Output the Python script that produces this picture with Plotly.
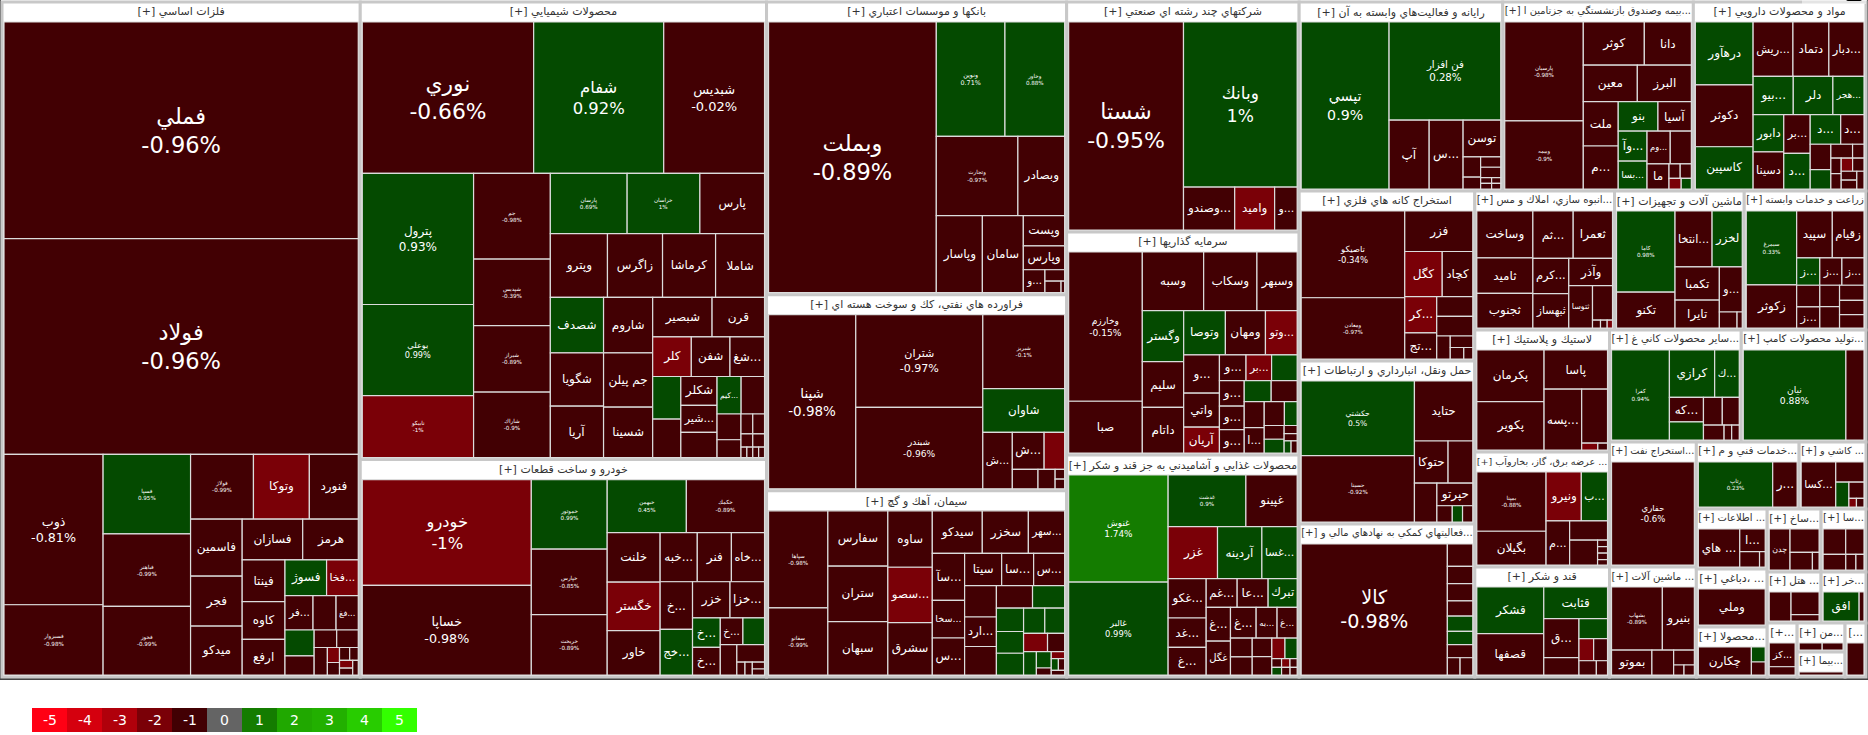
import math
import plotly.graph_objects as go

# ---------------- data ----------------
# sector headers (as displayed) and sector sizes (relative market value)
SECTOR_HEADERS = [
    "[+] فلزات اساسي",
    "[+] محصولات شيميايي",
    "[+] خودرو و ساخت قطعات",
    "[+] بانكها و موسسات اعتباري",
    "[+] فراورده هاي نفتي، كك و سوخت هسته اي",
    "[+] سيمان، آهك و گچ",
    "[+] شركتهاي چند رشته اي صنعتي",
    "[+] سرمايه گذاريها",
    "[+] محصولات غذايي و آشاميدني به جز قند و شكر",
    "[+] رايانه و فعاليت\u200cهاي وابسته به آن",
    "[+] بيمه وصندوق بازنشستگي به جزتامين ا...",
    "[+] مواد و محصولات دارويي",
    "[+] استخراج كانه هاي فلزي",
    "[+] حمل ونقل، انبارداري و ارتباطات",
    "[+] فعاليتهاي كمكي به نهادهاي مالي و...",
    "[+] انبوه سازي، املاك و مس...",
    "[+] ماشين آلات و تجهيزات",
    "[+] زراعت و خدمات وابسته",
    "[+] لاستيك و پلاستيك",
    "[+] عرضه برق، گاز، بخاروآب ...",
    "[+] قند و شكر",
    "[+] ساير محصولات كاني غ...",
    "[+] توليد محصولات كامپ...",
    "[+] استخراج نفت...",
    "[+] ماشين آلات ...",
    "[+] خدمات فني و م...",
    "[+] كاشي و ...",
    "[+] اطلاعات ...",
    "[+] دباغي، ...",
    "[+] محصولا...",
    "[+] ساخ...",
    "[+] سا...",
    "[+] هتل ...",
    "[+] خر...",
    "[+...",
    "[+] من...",
    "[+] بيما...",
    "[...",
]
SECTOR_SIZE = [242325, 186300, 88500, 88000, 58996, 55986, 53590, 51959, 51726,
               38556, 36099, 32697, 29920, 28688, 26928, 19460, 18070, 16958,
               16470, 15525, 14850, 14784, 14000, 10875, 9570, 6901, 4489, 4260,
               4118, 3550, 3402, 2835, 2754, 2295, 1620, 1392, 1200, 1134]

# stocks per sector: (symbol, relative size, % change)   "" = unlabeled tile
FELEZAT = [("فملي", 75970, -0.96), ("فولاد", 75615, -0.96), ("ذوب", 14744, -0.81),
           ("فسبزوار", 6887, -0.98), ("فسپا", 6880, 0.95), ("فباهنر", 6278, -0.99),
           ("فخوز", 5934, -0.99), ("فولاژ", 4032, -0.99), ("وتوكا", 3584, -1.35),
           ("فنورد", 3136, -0.92), ("فاسمين", 2907, -0.95), ("فجر", 2550, -0.9),
           ("ميدكو", 2499, -0.93), ("فسازان", 2440, -0.9), ("هرمز", 2240, -0.95),
           ("فينتا", 1764, -0.9), ("كاوه", 1596, -0.9), ("ارفع", 1512, -0.85),
           ("فسوژ", 1470, 0.62), ("فخا...", 1120, -1.5), ("فر...", 952, -0.9),
           ("", 782, -0.8), ("فغ...", 754, -0.9), ("", 748, 0.5), ("", 551, -0.8),
           ("", 391, -0.7), ("", 374, -0.9), ("", 360, -0.8), ("", 180, -1.4),
           ("", 150, -0.5), ("", 130, -0.6), ("", 110, -0.3), ("", 100, -1.2),
           ("", 90, -0.4), ("", 80, -0.5)]
SHIMI = [("نوري", 25160, -0.66), ("شفام", 19092, 0.92), ("شبديس", 14800, -0.02),
         ("پترول", 14148, 0.93), ("بوعلي", 9828, 0.99), ("نابيكو", 6696, -1.004),
         ("جم", 6375, -0.98), ("شپديس", 4950, -0.39), ("شيراز", 4950, -0.89),
         ("شاراك", 4875, -0.9), ("پارسان", 4484, 0.69), ("خراسان", 4248, 0.996),
         ("پارس", 3776, -0.9), ("وپترو", 3528, -0.9), ("زاگرس", 3402, -0.85),
         ("كرماشا", 3276, -0.9), ("شاملا", 3024, -0.9), ("شصدف", 2860, 0.7),
         ("شگويا", 2756, -0.9), ("آريا", 2652, -0.85), ("شاروم", 2640, -0.9),
         ("جم پيلن", 2592, -0.9), ("شسينا", 2400, -0.9), ("شبصير", 2280, -0.9),
         ("قرن", 2014, -0.9), ("كلر", 1482, -1.5), ("شفن", 1482, -0.9),
         ("شغ...", 1326, -0.9), ("", 1161, 0.7), ("", 1053, -0.9), ("شكلر", 1015, -0.9),
         ("شير...", 945, -0.9), ("", 888, -0.8), ("كيم...", 875, 0.6), ("", 851, -0.9),
         ("", 598, -0.8), ("", 414, -0.7), ("", 228, -0.8), ("", 228, -0.6),
         ("", 150, -0.9), ("", 150, -0.5), ("", 60, -0.9), ("", 60, -0.7),
         ("", 60, -0.8), ("", 60, -0.6)]
KHODRO = [("خودرو", 17056, -1.004), ("خساپا", 14432, -0.98), ("خموتور", 5032, 0.99),
          ("خپارس", 4736, -0.85), ("خريخت", 4366, -0.89), ("خبهمن", 4000, 0.45),
          ("خكمك", 3950, -0.89), ("خلنت", 2500, -0.9), ("خگستر", 2450, -1.5),
          ("خاور", 2236, -0.9), ("خبه...", 1739, -0.9), ("فنر", 1598, -0.9),
          ("خاه...", 1551, -0.9), ("خ...", 1472, -0.9), ("خج...", 1408, 0.6),
          ("خزر", 1292, -0.9), ("خزا...", 1190, -0.9), ("خ...", 783, 0.6),
          ("خ...", 729, -0.9), ("خ...", 575, -0.9), ("", 550, 0.5), ("", 480, -0.9),
          ("", 464, -0.8), ("", 100, -0.7), ("", 90, -0.9), ("", 80, -0.8), ("", 70, -0.9)]
BANK = [("وبملت", 44322, -0.89), ("ونوين", 7659, 0.71), ("وخاور", 6660, 0.88),
        ("وتجارت", 6314, -0.97), ("وبصادر", 3619, -0.9), ("وپاسار", 3465, -0.9),
        ("سامان", 3080, -0.9), ("وپست", 1218, -0.9), ("وپارس", 966, -0.9),
        ("و...", 483, -0.9), ("", 220, -0.8), ("", 180, -0.9), ("", 40, -0.5)]
NAFTI = [("شپنا", 14792, -0.98), ("شتران", 11466, -0.97), ("شبندر", 10080, -0.96),
         ("شبريز", 5893, -0.1), ("شاوان", 3486, 0.5), ("ش...", 1624, -0.9),
         ("ش...", 1147, -0.9), ("", 740, -1.3), ("", 486, -0.8), ("", 324, -0.7),
         ("", 90, -0.6), ("", 90, -0.5)]
SIMAN = [("سپاها", 5529, -0.98), ("سفانو", 3819, -0.99), ("سفارس", 3190, -0.9),
         ("ستران", 3190, -0.9), ("سبهان", 3074, -0.9), ("ساوه", 2408, -0.9),
         ("سصو...", 2365, -1.5), ("سشرق", 2236, -0.9), ("سيدكو", 2040, -0.9),
         ("سخزر", 1880, -0.9), ("سهر...", 1480, -0.9), ("سآ...", 1457, -0.9),
         ("سخا...", 1170, -0.9), ("س...", 1147, -0.9), ("سيتا", 1147, -0.9),
         ("سا...", 990, -0.9), ("س...", 960, -0.9), ("", 960, -0.8), ("ارد...", 900, -0.9),
         ("", 870, -0.9), ("", 783, -0.9), ("", 696, 0.6), ("", 609, 0.5), ("", 567, 0.7),
         ("", 567, 0.5), ("", 513, 0.6), ("", 480, 0.6), ("", 420, -1.4), ("", 300, -0.8),
         ("", 288, 0.6), ("", 234, 0.5), ("", 100, -0.9), ("", 90, -1.3), ("", 80, 0.5),
         ("", 70, -0.9), ("", 60, -0.8)]
CHAND = [("شستا", 23370, -0.95), ("وبانك", 18354, 0.996), ("وصندو...", 2150, -0.9),
         ("واميد", 1677, -1.4), ("و...", 946, -0.9)]
SARMAYE = [("وخارزم", 10437, -0.15), ("صبا", 3621, -0.9), ("وسبه", 3416, -0.9),
           ("وسكاب", 2968, -0.9), ("وسبهر", 2240, -0.9), ("وگستر", 2000, 0.6),
           ("سليم", 1800, -0.9), ("داتام", 1790, -0.9), ("وتوصا", 1750, 0.6),
           ("ومهان", 1680, -0.9), ("وتو...", 1330, -1.4), ("و...", 1302, -0.9),
           ("واتي", 1155, -0.9), ("آريان", 875, -1.3), ("و...", 650, -0.9),
           ("بر...", 625, -1.2), ("", 625, 0.5), ("و...", 600, -0.9), ("و...", 552, -0.9),
           ("و...", 552, -0.9), ("", 540, 0.5), ("", 520, -0.9), ("", 494, -0.8),
           ("ا...", 480, -0.9), ("", 456, -0.9), ("", 288, 0.6), ("", 260, -0.8),
           ("", 260, 0.5), ("", 100, -0.9), ("", 90, -0.8), ("", 80, 0.5), ("", 70, -0.9)]
GHAZA = [("غنوش", 9964, 1.74), ("غالبر", 8648, 0.99), ("غدشت", 3760, 0.9),
         ("غپينو", 2480, -0.9), ("غزر", 2400, -1.4), ("آردينه", 2156, 0.6),
         ("غسا...", 1715, 0.6), ("غكو...", 1400, -0.9), ("غد...", 1050, -0.9),
         ("غ...", 980, -0.9), ("غم...", 832, -0.9), ("عا...", 832, -0.9),
         ("تبرك", 780, 0.6), ("غ...", 768, -0.9), ("غگل", 768, -0.9), ("غ...", 736, -0.9),
         ("به...", 600, -0.9), ("غ...", 576, -0.9), ("", 384, -0.9), ("", 368, -0.8),
         ("", 342, -0.9), ("", 336, -0.9), ("", 252, -1.3), ("", 234, 0.5),
         ("", 80, -0.9), ("", 70, 0.5), ("", 70, -1.3), ("", 60, -0.9), ("", 60, -0.8),
         ("", 50, -0.9)]
RAYANE = [("تپسي", 14104, 0.9), ("فن افزار", 10528, 0.28), ("آپ", 2652, -0.9),
          ("س...", 2244, -0.9), ("توسن", 1330, -0.9), ("", 340, -0.8), ("", 200, -0.9),
          ("", 200, -0.8), ("", 200, -0.9), ("", 60, -0.9), ("", 60, -0.8),
          ("", 50, -0.9), ("", 50, -0.7)]
BIME = [("پارسيان", 7200, -0.98), ("وبيمه", 4950, -0.9), ("كوثر", 2440, -0.9),
        ("دانا", 1880, -0.9), ("معين", 1824, -0.9), ("البرز", 1824, -0.9),
        ("ملت", 1435, -0.9), ("م...", 1392, -0.9), ("بنو", 1085, 0.6), ("آسيا", 912, -0.9),
        ("وآ...", 800, 0.6), ("بسا...", 744, 0.6), ("وم...", 704, -0.9), ("", 640, -0.9),
        ("ما", 512, -0.9), ("", 150, -0.9), ("", 150, -0.8), ("", 120, -1.3), ("", 100, 0.5)]
DARU = [("درهآور", 3416, 0.6), ("دكوثر", 3360, -0.9), ("كاسپين", 2296, 0.6),
        ("ريش...", 2040, -0.9), ("دتماد", 1840, -0.9), ("دبار...", 1800, -0.9),
        ("بيو...", 1440, 0.6), ("دلر", 1420, 0.6), ("هجر...", 1116, 0.6),
        ("دابور", 1073, 0.6), ("دسينا", 1073, -0.9), ("بر...", 962, -0.9),
        ("د...", 888, 0.6), ("د...", 851, 0.6), ("د...", 650, -0.9), ("", 494, -0.9),
        ("", 375, 0.5), ("", 285, -0.9), ("", 150, -0.9), ("", 150, -0.8),
        ("", 150, -0.9), ("", 140, -1.3), ("", 140, -0.9), ("", 130, -0.8),
        ("", 130, -0.9), ("", 120, -0.9)]
KANE = [("تاصيكو", 8670, -0.34), ("ومعادن", 6120, -0.97), ("فزر", 2660, -0.9),
        ("كگل", 1634, -1.4), ("كچاد", 1333, -0.9), ("كر...", 1116, -1.3),
        ("تج...", 806, -0.9), ("", 684, -0.9), ("", 684, -0.8), ("", 300, -0.9),
        ("", 250, -0.8), ("", 150, -0.9), ("", 100, -0.7)]
HAML = [("حكشتي", 8103, 0.5), ("حسينا", 7215, -0.92), ("حتايد", 3360, -0.9),
        ("حتوكا", 1360, -0.9), ("", 1000, -0.9), ("", 836, -0.9), ("حپرتو", 777, -0.9),
        ("", 240, -0.9), ("", 160, 0.5), ("", 160, -0.9)]
KOMAKI = [("كالا", 19272, -0.98), ("", 572, -0.9), ("", 442, -0.9), ("", 442, -0.9),
          ("", 390, -0.9), ("", 390, 0.6), ("", 338, 0.5), ("", 338, -0.9),
          ("", 221, -0.9), ("", 221, -0.9)]
ANBOOH = [("وساخت", 2530, -0.9), ("ثاميد", 1925, -0.9), ("ثجنوب", 1870, -0.9),
          ("ثم...", 1840, -0.9), ("ثعمرا", 1794, -0.9), ("كرم...", 1225, -0.9),
          ("ثبهساز", 1188, -0.9), ("وآذر", 1155, -0.9), ("ثتوسا", 968, -0.9),
          ("", 666, -0.9), ("", 60, -0.9), ("", 50, -0.9), ("", 40, -1.3)]
MASHIN = [("كاما", 4560, 0.98), ("تكنو", 2010, -0.9), ("انتخا...", 1990, -0.9),
          ("لخزر", 1620, 0.6), ("تكمبا", 1408, -0.9), ("تايرا", 1188, -0.9),
          ("و...", 989, -0.9), ("", 272, -0.9), ("", 80, -0.9)]
ZERAAT = [("سيمرغ", 3528, 0.33), ("زكوثر", 2058, -0.9), ("سپيد", 1584, -0.9),
          ("زقيام", 1408, -0.9), ("ز...", 598, 0.6), ("ز...", 572, -0.9), ("ز...", 572, -0.9),
          ("", 475, -0.9), ("ز...", 462, -0.9), ("", 400, -0.9), ("", 399, -0.9),
          ("", 352, -0.9), ("", 330, -0.9), ("", 308, -0.9)]
LASTIK = [("پكرمان", 3168, -0.9), ("پكوير", 2970, -0.9), ("پاسا", 2268, -0.9),
          ("پسه...", 2088, -0.9), ("", 1275, -0.9), ("", 100, -1.3), ("", 60, -0.9)]
BARGH = [("بمپنا", 3828, -0.88), ("بگيلان", 2178, -0.9), ("ونيرو", 1610, -1.4),
         ("ب...", 1196, 0.6), ("م...", 968, -0.9), ("", 680, -0.9), ("", 646, -0.9),
         ("", 60, -0.9), ("", 60, -0.8), ("", 60, -0.9), ("", 50, -0.9)]
GHAND = [("قشكر", 2944, 0.6), ("قصفها", 2624, -0.9), ("قثابت", 1900, 0.6),
         ("ق...", 1300, -0.9), ("", 576, -0.9), ("", 544, 0.6), ("", 306, -1.3),
         ("", 289, -0.9), ("", 234, -0.9), ("", 150, -0.9)]
KANI = [("كفرا", 4590, 0.94), ("كرازي", 1886, 0.6), ("ك...", 1025, 0.6),
        ("كه...", 736, -0.9), ("", 544, 0.6), ("", 460, -0.9), ("", 414, -0.9),
        ("", 272, -0.9), ("", 100, -0.9), ("", 100, -0.9)]
COMPUTER = [("نيان", 8670, 0.88), ("", 1530, -0.9)]
NAFT = [("حفاري", 8134, -0.6)]
BARGHI = [("بشهاب", 3100, -0.89), ("بنيرو", 1950, -0.9), ("بموتو", 975, -0.9),
          ("", 525, -0.9), ("", 300, -0.9), ("", 100, -0.9), ("", 100, -0.9)]
FANI = [("رتاپ", 3066, 0.23), ("ر...", 1008, -0.9)]
KASHI = [("كسا...", 1428, -0.9), ("", 522, -0.9), ("", 300, 0.6), ("", 224, -0.9),
         ("", 60, -1.3), ("", 60, -0.9)]
ETTELAAT = [("هاي ...", 1440, -0.9), ("ا...", 525, -0.9), ("", 280, -0.9), ("", 80, -0.9)]
DABAGHI = [("وملي", 2244, -0.9)]
MAHSULAT = [("چكارن", 1508, -0.9), ("", 210, 0.6), ("", 182, -0.9)]
SAKHT = [("چدن", 728, -0.9), ("", 580, -0.9), ("", 336, -0.9), ("", 100, -0.9)]
SA = [("", 546, -0.9), ("", 442, -0.9), ("", 336, -0.9), ("", 150, -0.9), ("", 120, -0.9)]
HOTEL = [("", 546, -0.9), ("", 546, -0.9), ("", 156, -0.9)]
KHAR = [("افق", 962, 0.6), ("", 130, -0.9)]
KAZ = [("كز...", 598, -0.9), ("", 208, -0.9)]
MAN = [("", 168, -0.9), ("", 152, -0.9)]
BIMA = [("", 150, -0.9)]
LAST = [("", 100, -0.9)]

SECTOR_STOCKS = [FELEZAT, SHIMI, KHODRO, BANK, NAFTI, SIMAN, CHAND, SARMAYE, GHAZA,
                 RAYANE, BIME, DARU, KANE, HAML, KOMAKI, ANBOOH, MASHIN, ZERAAT,
                 LASTIK, BARGH, GHAND, KANI, COMPUTER, NAFT, BARGHI, FANI, KASHI,
                 ETTELAAT, DABAGHI, MAHSULAT, SAKHT, SA, HOTEL, KHAR, KAZ, MAN, BIMA, LAST]

LEGEND_TICKS = [-5, -4, -3, -2, -1, 0, 1, 2, 3, 4, 5]

# ---------------- styles ----------------
LEGEND_COLORS = ["#ff0014", "#d5000e", "#b0000b", "#7a0007", "#420003", "#646464",
                 "#147c00", "#20a800", "#22b000", "#28cc00", "#33ff00"]
NEG = ["#420003", "#7a0007", "#b0000b", "#d5000e", "#ff0014"]
POS = ["#044a00", "#147c00", "#20a800", "#28cc00", "#33ff00"]
GRAY = "#646464"

BIG = {"فملي": 22.5, "فولاد": 22.5, "نوري": 21.8, "شستا": 22, "وبملت": 22.5, "كالا": 19.2,
       "وبانك": 17, "خودرو": 16.3, "خساپا": 12.7, "تپسي": 14.2, "شفام": 16.4, "شپنا": 13.5,
       "ذوب": 12.7, "شبديس": 13, "شتران": 11.1, "شبندر": 9.1, "فن افزار": 10.2,
       "پترول": 12, "بوعلي": 8.2, "وخارزم": 9.1, "تاصيكو": 8.5, "حكشتي": 7.6,
       "غنوش": 8.9, "غالبر": 8.4, "نيان": 9.2, "حفاري": 8.5, "ونوين": 6.4, "وخاور": 5.6}
TINY = {"فسبزوار", "فسپا", "فباهنر", "فخوز", "فولاژ", "نابيكو", "جم", "شپديس", "شيراز",
        "شاراك", "پارسان", "خراسان", "خموتور", "خپارس", "خريخت", "خبهمن", "خكمك",
        "وتجارت", "شبريز", "سپاها", "سفانو", "غدشت", "پارسيان", "وبيمه", "ومعادن",
        "حسينا", "كاما", "سيمرغ", "بمپنا", "كفرا", "بشهاب", "رتاپ"}
TINY_SIZE = 5.6
NAME_SIZE = 12
FONT = "DejaVu Sans"
W = 1868
SHIFT = 20            # height of the (hidden) root header strip
H = 735 + SHIFT       # figure height; page is scrolled up by SHIFT via CSS


def py(px):
    """page pixel y -> paper fraction of the figure"""
    return 1 - (px + SHIFT) / H


def tile_color(v):
    if v == 0:
        return GRAY
    k = min(5, math.ceil(abs(v)))
    return POS[k - 1] if v > 0 else NEG[k - 1]


def pct_text(v):
    return f"{round(v, 2):g}%"


ids, labels, parents, values, texts = [], [], [], [], []
colors, lcolors, lwidths, fsizes, fcolors = [], [], [], [], []

for si, (hdr, total, stocks) in enumerate(zip(SECTOR_HEADERS, SECTOR_SIZE, SECTOR_STOCKS)):
    sid = f"S{si}"
    ids.append(sid); labels.append(hdr); parents.append(""); values.append(0)
    texts.append(hdr); colors.append("#ffffff"); lcolors.append("#c8c8c8")
    lwidths.append(3); fsizes.append(11); fcolors.append("#333333")
    wsum = sum(s[1] for s in stocks)
    for j, (name, w, v) in enumerate(stocks):
        ids.append(f"{sid}_{j}")
        labels.append(name if name else f"{sid}_{j}")
        parents.append(sid)
        values.append(total * w / wsum)
        colors.append(tile_color(v))
        lcolors.append("#dcdcdc"); lwidths.append(1.2); fcolors.append("#ffffff")
        if not name:
            texts.append(""); fsizes.append(10)
        elif name in BIG:
            texts.append(f"{name}<br>{pct_text(v)}"); fsizes.append(BIG[name])
        elif name in TINY:
            texts.append(f"{name}<br>{pct_text(v)}"); fsizes.append(TINY_SIZE)
        else:
            texts.append(name); fsizes.append(NAME_SIZE)

fig = go.Figure(go.Treemap(
    ids=ids, labels=labels, parents=parents, values=values, branchvalues="remainder",
    text=texts, textinfo="text", textposition="middle center",
    marker=dict(colors=colors, line=dict(color=lcolors, width=lwidths),
                pad=dict(t=20, l=2, r=2, b=2)),
    textfont=dict(size=fsizes, color=fcolors, family=FONT),
    tiling=dict(packing="squarify", squarifyratio=1, pad=0),
    pathbar=dict(visible=False), sort=True, hoverinfo="skip",
    # root box: top at page y = 2 - 20 (its header strip is scrolled off), bottom 679
    domain=dict(x=[0, 1], y=[py(679), py(2 - SHIFT)]),
))

shapes, annos = [], []
for i, (t, c) in enumerate(zip(LEGEND_TICKS, LEGEND_COLORS)):
    x0 = (32 + 35 * i) / W
    x1 = (32 + 35 * (i + 1)) / W
    shapes.append(dict(type="rect", xref="paper", yref="paper", x0=x0, x1=x1,
                       y0=py(732), y1=py(708), fillcolor=c, line=dict(width=0)))
    annos.append(dict(xref="paper", yref="paper", x=(x0 + x1) / 2, y=py(720),
                      text=str(t), showarrow=False,
                      font=dict(color="white", size=14, family=FONT),
                      xanchor="center", yanchor="middle"))

fig.update_layout(width=W, height=H, margin=dict(l=0, r=0, t=0, b=0),
                  paper_bgcolor="white", shapes=shapes, annotations=annos,
                  font=dict(family=FONT))

POST = ("document.body.style.margin='0';document.body.style.overflow='hidden';"
        "var d=document.getElementById('{plot_id}');d.style.marginTop='-%dpx';" % SHIFT)
fig.write_html("out.html", post_script=POST)
